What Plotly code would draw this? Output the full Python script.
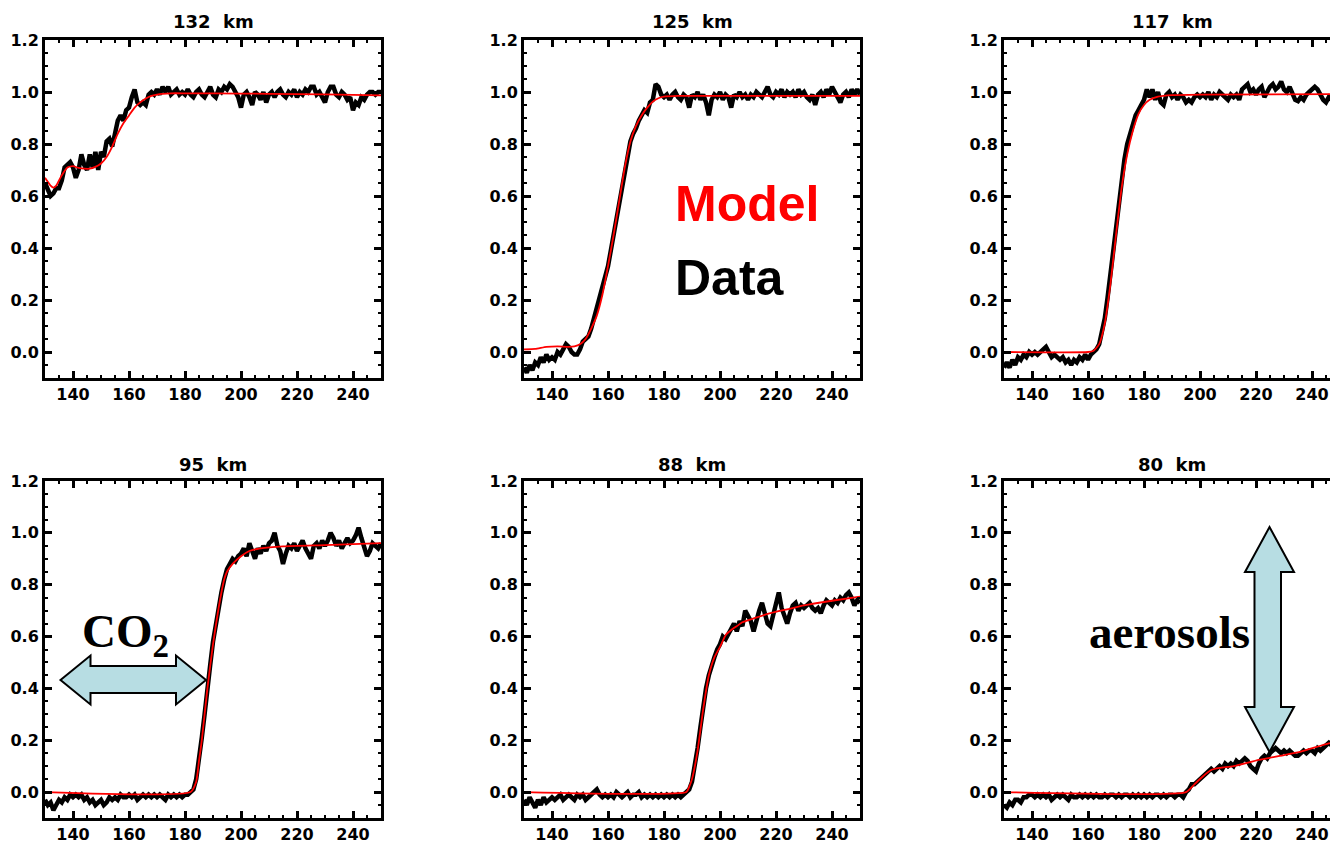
import plotly.graph_objects as go

W, H = 1330, 850

# ---------------- data ----------------
titles = ["132 km", "125 km", "117 km", "95 km", "88 km", "80 km"]
x_data = list(range(130, 251))

# 132 km
data_132 = [
    0.65, 0.62, 0.60, 0.61, 0.63, 0.63, 0.66, 0.71, 0.72, 0.73,
    0.71, 0.67, 0.70, 0.76, 0.72, 0.70, 0.76, 0.71, 0.77, 0.70,
    0.77, 0.75, 0.81, 0.82, 0.79, 0.84, 0.89, 0.91, 0.89, 0.93,
    0.94, 0.98, 1.01, 0.96, 0.95, 0.96, 0.95, 0.99, 1.00, 0.99,
    1.01, 0.99, 1.02, 1.00, 1.02, 0.99, 1.00, 1.01, 0.99, 1.00,
    0.99, 1.01, 0.99, 0.98, 1.00, 1.01, 0.99, 0.98, 1.00, 1.02,
    0.99, 0.98, 1.01, 1.00, 1.02, 1.01, 1.03, 1.02, 1.00, 0.98,
    0.94, 0.99, 1.00, 0.98, 0.95, 1.00, 0.99, 0.97, 1.00, 0.96,
    0.99, 1.00, 0.98, 1.00, 1.01, 0.99, 0.98, 1.00, 0.99, 1.01,
    0.98, 1.00, 0.99, 1.01, 1.00, 1.02, 1.02, 0.99, 1.00, 0.98,
    0.96, 1.00, 1.02, 1.02, 0.99, 0.98, 1.00, 0.99, 0.97, 0.98,
    0.93, 0.96, 0.95, 0.98, 0.97, 0.99, 1.00, 1.00, 0.99, 1.00,
    1.00]
model_132_x = [130, 132, 133, 134, 136, 138, 140, 142, 144, 146, 148, 150, 152, 154, 156, 158,
               160, 162, 164, 166, 168, 170, 172, 175, 180, 200, 220, 240, 250]
model_132_y = [0.67, 0.64, 0.632, 0.64, 0.68, 0.71, 0.715, 0.708, 0.705, 0.705, 0.712, 0.725, 0.75,
               0.79, 0.84, 0.88, 0.91, 0.94, 0.96, 0.975, 0.985, 0.99, 0.993, 0.995, 0.995,
               0.994, 0.992, 0.989, 0.987]

# 125 km
data_125 = [
    -0.06, -0.08, -0.05, -0.07, -0.04, -0.05, -0.02, -0.04, -0.01, -0.03,
    -0.02, -0.03, 0.00, -0.01, 0.01, 0.03, 0.02, 0.00, -0.01, -0.01,
    0.01, 0.04, 0.05, 0.06, 0.09, 0.13, 0.17, 0.21, 0.25, 0.29,
    0.33, 0.39, 0.45, 0.52, 0.58, 0.65, 0.71, 0.77, 0.81, 0.84,
    0.86, 0.89, 0.91, 0.93, 0.92, 0.96, 0.97, 1.03, 1.02, 0.99,
    0.98, 0.99, 0.97, 0.99, 1.00, 0.98, 0.97, 0.99, 0.98, 0.94,
    0.99, 0.98, 1.00, 0.97, 0.99, 0.96, 0.91, 0.97, 0.99, 0.98,
    1.00, 0.97, 0.99, 0.98, 0.94, 0.99, 0.98, 1.00, 0.98, 0.99,
    0.97, 0.99, 0.98, 1.00, 0.99, 0.98, 1.00, 1.02, 0.99, 0.98,
    1.00, 0.99, 1.01, 0.98, 1.00, 0.99, 1.00, 0.98, 1.01, 0.99,
    1.00, 0.98, 0.97, 0.99, 0.95, 0.99, 1.00, 0.98, 1.01, 0.99,
    1.02, 1.00, 0.98, 0.96, 0.99, 1.00, 0.98, 1.01, 0.99, 1.01,
    0.99]
model_125_x = [130, 134, 138, 142, 146, 148, 150, 152, 154, 156, 158, 160, 162, 164, 166, 168,
               170, 172, 174, 176, 178, 180, 185, 250]
model_125_y = [0.01, 0.012, 0.02, 0.022, 0.02, 0.022, 0.03, 0.05, 0.09, 0.14, 0.22, 0.33, 0.45,
               0.58, 0.71, 0.81, 0.87, 0.91, 0.94, 0.963, 0.976, 0.982, 0.985, 0.985]

# 117 km
data_117 = [
    -0.06, -0.04, -0.06, -0.03, -0.05, -0.02, -0.03, -0.01, -0.02, 0.00,
    -0.01, 0.00, -0.01, 0.00, 0.01, 0.02, 0.00, -0.02, -0.01, -0.02,
    -0.03, -0.02, -0.04, -0.03, -0.05, -0.03, -0.04, -0.02, -0.03, -0.01,
    -0.03, -0.01, 0.00, 0.01, 0.03, 0.08, 0.13, 0.21, 0.30, 0.40,
    0.49, 0.59, 0.67, 0.74, 0.80, 0.84, 0.87, 0.91, 0.93, 0.95,
    0.97, 1.01, 0.98, 1.01, 0.97, 1.00, 0.96, 0.95, 0.99, 1.00,
    0.98, 0.99, 0.97, 0.99, 0.98, 0.96, 0.97, 0.96, 0.98, 0.99,
    0.98, 0.99, 0.98, 1.00, 0.97, 0.99, 0.98, 1.00, 0.99, 0.98,
    0.97, 0.99, 0.98, 0.99, 0.97, 1.01, 1.02, 1.03, 1.00, 1.01,
    0.99, 1.01, 1.02, 0.98, 1.00, 1.02, 1.03, 1.01, 1.02, 1.04,
    1.01, 1.00, 1.02, 0.99, 0.97, 0.965, 0.98, 0.97, 0.99, 1.00,
    1.01, 1.02, 1.01, 0.99, 0.97, 0.96, 0.98, 0.97, 0.99, 1.00,
    0.99]
model_117_x = [130, 160, 162, 164, 166, 168, 170, 172, 174, 176, 178, 180, 182, 185, 190, 200, 250]
model_117_y = [0.0, 0.0, 0.005, 0.03, 0.11, 0.26, 0.45, 0.63, 0.76, 0.85, 0.915, 0.95, 0.97,
               0.982, 0.988, 0.99, 0.992]

# 95 km
data_95 = [
    -0.03, -0.05, -0.04, -0.07, -0.05, -0.03, -0.04, -0.02, -0.03, -0.01,
    -0.02, -0.01, -0.02, -0.01, -0.03, -0.02, -0.04, -0.03, -0.05, -0.04,
    -0.03, -0.05, -0.04, -0.02, -0.03, -0.02, -0.03, -0.01, -0.02, -0.02,
    -0.01, -0.02, -0.01, -0.03, -0.02, -0.01, -0.02, -0.01, -0.02, -0.01,
    -0.02, -0.01, -0.02, -0.03, -0.01, -0.02, -0.01, -0.02, -0.01, -0.02,
    -0.01, -0.01, 0.00, 0.01, 0.05, 0.12, 0.21, 0.30, 0.41, 0.49,
    0.58, 0.65, 0.72, 0.77, 0.82, 0.86, 0.88, 0.90, 0.89, 0.91,
    0.92, 0.94, 0.91, 0.96, 0.93, 0.90, 0.94, 0.92, 0.95, 0.93,
    0.96, 0.97, 1.00, 0.95, 0.93, 0.88, 0.92, 0.95, 0.94, 0.96,
    0.93, 0.95, 0.97, 0.94, 0.92, 0.90, 0.95, 0.96, 0.94, 0.97,
    0.95, 0.97, 1.00, 0.98, 0.95, 0.97, 0.94, 0.96, 0.98, 0.96,
    0.97, 0.99, 1.02, 0.98, 0.95, 0.91, 0.93, 0.96, 0.95, 0.94,
    0.96]
model_95_x = [130, 182, 184, 185, 186, 188, 190, 192, 194, 195, 197, 200, 203, 207, 215, 230, 250]
model_95_y = [0.0, 0.0, 0.04, 0.12, 0.2, 0.4, 0.57, 0.71, 0.82, 0.85, 0.88, 0.91, 0.93, 0.94,
              0.948, 0.953, 0.96]

# 88 km
data_88 = [
    -0.03, -0.05, -0.02, -0.04, -0.06, -0.03, -0.05, -0.02, -0.04, -0.03,
    -0.02, -0.03, -0.02, -0.01, -0.03, -0.02, -0.01, -0.02, -0.03, -0.01,
    -0.02, -0.01, -0.03, -0.02, -0.01, 0.00, 0.01, -0.01, -0.02, -0.01,
    -0.02, -0.01, -0.02, 0.00, -0.01, -0.02, -0.01, 0.00, -0.02, -0.01,
    -0.01, 0.00, -0.02, -0.01, -0.02, -0.01, -0.02, -0.01, -0.02, -0.01,
    -0.02, -0.01, -0.02, -0.01, -0.02, -0.01, -0.02, -0.01, 0.00, 0.01,
    0.04, 0.10, 0.17, 0.25, 0.33, 0.40, 0.45, 0.49, 0.52, 0.55,
    0.57, 0.60, 0.59, 0.61, 0.63, 0.65, 0.62, 0.66, 0.64, 0.70,
    0.68, 0.66, 0.62, 0.67, 0.70, 0.73, 0.68, 0.65, 0.64, 0.69,
    0.73, 0.77, 0.71, 0.68, 0.65, 0.69, 0.72, 0.73, 0.70, 0.72,
    0.71, 0.72, 0.73, 0.71, 0.70, 0.71, 0.69, 0.72, 0.74, 0.73,
    0.72, 0.74, 0.73, 0.75, 0.74, 0.76, 0.77, 0.75, 0.72, 0.74,
    0.73]
model_88_x = [130, 188, 189, 190, 192, 194, 196, 198, 200, 202, 204, 206, 208, 212, 218, 224,
              230, 240, 250]
model_88_y = [0.0, 0.0, 0.02, 0.05, 0.16, 0.32, 0.45, 0.52, 0.56, 0.605, 0.625, 0.64, 0.655,
              0.67, 0.69, 0.705, 0.72, 0.738, 0.754]

# 80 km
data_80 = [
    -0.05, -0.06, -0.04, -0.05, -0.03, -0.03, -0.04, -0.02, -0.02, -0.01,
    -0.01, -0.02, -0.01, -0.02, -0.01, -0.02, -0.01, -0.03, -0.02, -0.01,
    -0.02, -0.01, -0.02, -0.03, -0.01, -0.02, -0.02, -0.01, -0.02, -0.01,
    -0.02, -0.01, -0.02, -0.01, -0.02, -0.02, -0.01, -0.02, -0.01, -0.01,
    -0.02, -0.01, -0.02, -0.01, -0.01, -0.02, -0.01, -0.02, -0.01, -0.02,
    -0.01, -0.02, -0.01, -0.02, -0.01, -0.01, -0.02, -0.01, -0.02, -0.01,
    -0.01, -0.02, -0.01, -0.01, -0.02, 0.00, 0.01, 0.03, 0.03, 0.04,
    0.05, 0.06, 0.07, 0.08, 0.09, 0.08, 0.09, 0.10, 0.09, 0.11,
    0.10, 0.11, 0.10, 0.12, 0.11, 0.12, 0.13, 0.12, 0.10, 0.09,
    0.08, 0.11, 0.13, 0.14, 0.13, 0.15, 0.16, 0.17, 0.16, 0.15,
    0.16, 0.15, 0.16, 0.15, 0.14, 0.14, 0.15, 0.16, 0.15, 0.16,
    0.16, 0.15, 0.17, 0.16, 0.17, 0.18, 0.19, 0.18, 0.19, 0.20,
    0.20]
model_80_x = [130, 195, 198, 201, 204, 207, 212, 221, 230, 236, 246, 250]
model_80_y = [0.0, 0.0, 0.03, 0.06, 0.085, 0.093, 0.10, 0.124, 0.143, 0.156, 0.188, 0.195]

data_sets = [data_132, data_125, data_117, data_95, data_88, data_80]
model_sets = [(model_132_x, model_132_y), (model_125_x, model_125_y), (model_117_x, model_117_y),
              (model_95_x, model_95_y), (model_88_x, model_88_y), (model_80_x, model_80_y)]

x_major = [140, 160, 180, 200, 220, 240]
x_minor = list(range(130, 251, 5))
y_major = [0.0, 0.2, 0.4, 0.6, 0.8, 1.0, 1.2]
y_minor = [round(-0.1 + 0.05 * i, 2) for i in range(27)]

# ---------------- layout geometry (pixels) ----------------
col_px = [(45, 381), (524, 860), (1004, 1330)]
col_xmax = [250, 250, 130 + (1330 - 1004) / 2.8]
row_px = [(40, 378), (481, 818)]


def px(x):
    return x / W


def py(y):
    return 1 - y / H


fig = go.Figure()
tickfont = dict(family="DejaVu Sans", size=16, color="black", weight="bold")

for i in range(6):
    r, c = divmod(i, 3)
    n = i + 1
    xa = "x" if n == 1 else f"x{n}"
    ya = "y" if n == 1 else f"y{n}"
    fig.add_trace(go.Scatter(x=x_data, y=data_sets[i], mode="lines",
                             line=dict(color="black", width=4.5),
                             xaxis=xa, yaxis=ya, showlegend=False, hoverinfo="skip"))
    mx, my = model_sets[i]
    fig.add_trace(go.Scatter(x=mx, y=my, mode="lines",
                             line=dict(color="#ff0000", width=1.8, shape="spline", smoothing=0.5),
                             xaxis=xa, yaxis=ya, showlegend=False, hoverinfo="skip"))
    x0, x1 = col_px[c]
    y0, y1 = row_px[r]
    xkey = "xaxis" if n == 1 else f"xaxis{n}"
    ykey = "yaxis" if n == 1 else f"yaxis{n}"
    fig.update_layout(**{
        xkey: dict(domain=[px(x0), px(x1)], anchor=ya, range=[130, col_xmax[c]],
                   automargin=False, fixedrange=True,
                   tickvals=x_major, ticks="inside", ticklen=7, tickwidth=2.5, tickcolor="black",
                   showline=True, linewidth=3, linecolor="black", mirror="allticks",
                   showgrid=False, zeroline=False, tickfont=tickfont,
                   minor=dict(tickvals=x_minor, ticks="inside", ticklen=3, tickwidth=2,
                              tickcolor="black", showgrid=False)),
        ykey: dict(domain=[py(y1), py(y0)], anchor=xa, range=[-0.1, 1.2],
                   automargin=False, fixedrange=True,
                   tickvals=y_major, tickformat=".1f", ticks="inside", ticklen=7, tickwidth=2.5,
                   tickcolor="black", showline=True, linewidth=3, linecolor="black",
                   mirror=("allticks" if c < 2 else False),
                   showgrid=False, zeroline=False, tickfont=tickfont,
                   minor=dict(tickvals=y_minor, ticks="inside", ticklen=3, tickwidth=2,
                              tickcolor="black", showgrid=False)),
    })

annotations = []
title_y = [22, 464]
for i, t in enumerate(titles):
    r, c = divmod(i, 3)
    x0, _ = col_px[c]
    cx = x0 + 168
    annotations.append(dict(x=px(cx), y=py(title_y[r]), xref="paper", yref="paper",
                            text=t.replace(" ", "\u00a0\u00a0"), showarrow=False,
                            xanchor="center", yanchor="middle",
                            font=dict(family="DejaVu Sans", size=18, color="black", weight="bold")))

annotations.append(dict(x=px(673), y=py(204), xref="paper", yref="paper", text="Model",
                        showarrow=False, xanchor="left", yanchor="middle",
                        font=dict(family="Liberation Sans", size=50, color="#ff0000", weight="bold")))
annotations.append(dict(x=px(673), y=py(278), xref="paper", yref="paper", text="Data",
                        showarrow=False, xanchor="left", yanchor="middle",
                        font=dict(family="Liberation Sans", size=50, color="black", weight="bold")))
annotations.append(dict(x=px(80), y=py(634), xref="paper", yref="paper", text="CO<sub>2</sub>",
                        showarrow=False, xanchor="left", yanchor="middle",
                        font=dict(family="Liberation Serif", size=47, color="black", weight="bold")))
annotations.append(dict(x=px(1087), y=py(632), xref="paper", yref="paper", text="aerosols",
                        showarrow=False, xanchor="left", yanchor="middle",
                        font=dict(family="Liberation Serif", size=47, color="black", weight="bold")))


def path_from(points):
    s = "M " + " L ".join(f"{px(x):.5f},{py(y):.5f}" for x, y in points) + " Z"
    return s


harrow = [(60.5, 680), (90.5, 655.5), (90.5, 666), (176, 666), (176, 655.5), (206, 680),
          (176, 704.5), (176, 693), (90.5, 693), (90.5, 704.5)]
varrow = [(1269.5, 527), (1294, 572), (1281, 572), (1281, 707), (1294, 707), (1269.5, 752),
          (1245, 707), (1254.5, 707), (1254.5, 572), (1245, 572)]
shapes = []
for pts in (harrow, varrow):
    shapes.append(dict(type="path", xref="paper", yref="paper", path=path_from(pts),
                       fillcolor="#b7dde3", line=dict(color="black", width=2), layer="above"))

fig.update_layout(width=W, height=H, margin=dict(l=0, r=0, t=0, b=0, autoexpand=False),
                  paper_bgcolor="white", plot_bgcolor="white",
                  annotations=annotations, shapes=shapes, showlegend=False)

fig.write_html("out.html", config={"displayModeBar": False},
               post_script="document.body.style.margin='0';")
